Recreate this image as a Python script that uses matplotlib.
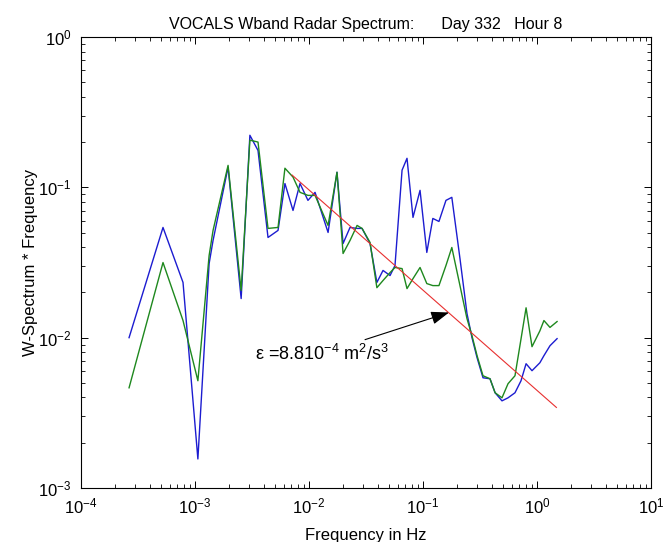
import numpy as np
import matplotlib
matplotlib.use("Agg")
import matplotlib.pyplot as plt

plt.rcParams['font.family'] = ['Liberation Sans', 'DejaVu Sans']
plt.rcParams['mathtext.default'] = 'regular'

# Frequencies (Hz)
freq = [2.64e-4, 5.24e-4, 7.85e-4, 1.06e-3, 1.33e-3, 1.44e-3, 1.95e-3, 2.54e-3, 3.03e-3, 3.57e-3,
        4.37e-3, 5.35e-3, 6.15e-3, 7.24e-3, 8.34e-3, 9.79e-3, 1.13e-2, 1.47e-2, 1.76e-2, 1.99e-2,
        2.29e-2, 2.64e-2, 2.92e-2, 3.43e-2, 3.94e-2, 4.46e-2, 5.14e-2, 5.68e-2, 6.55e-2, 7.24e-2,
        8.17e-2, 9.42e-2, 0.108, 0.122, 0.138, 0.159, 0.179, 0.211, 0.243, 0.269,
        0.298, 0.336, 0.387, 0.429, 0.493, 0.557, 0.641, 0.724, 0.802, 0.904,
        1.06, 1.15, 1.30, 1.50]

# W-spectrum * frequency, blue series
spec_blue = [1.00e-2, 5.41e-2, 2.33e-2, 1.56e-3, 3.11e-2, 4.43e-2, 0.136, 1.82e-2, 0.222, 0.176,
             4.64e-2, 5.17e-2, 0.106, 7.02e-2, 0.106, 8.19e-2, 9.26e-2, 5.01e-2, 0.126, 4.23e-2,
             5.41e-2, 5.33e-2, 5.33e-2, 4.23e-2, 2.33e-2, 2.80e-2, 2.59e-2, 3.02e-2, 0.130, 0.156,
             6.31e-2, 9.55e-2, 3.69e-2, 6.21e-2, 5.93e-2, 8.19e-2, 8.58e-2, 3.36e-2, 1.45e-2, 1.00e-2,
             7.36e-3, 5.41e-3, 5.33e-3, 4.30e-3, 3.80e-3, 3.98e-3, 4.30e-3, 5.17e-3, 6.71e-3, 6.03e-3,
             6.81e-3, 7.59e-3, 8.84e-3, 9.85e-3]

# W-spectrum * frequency, green series
spec_green = [4.64e-3, 3.16e-2, 1.30e-2, 5.17e-3, 3.52e-2, 5.17e-2, 0.140, 2.06e-2, 0.206, 0.200,
              5.33e-2, 5.41e-2, 0.134, 0.117, 9.26e-2, 8.84e-2, 8.84e-2, 5.58e-2, 0.126, 3.63e-2,
              4.43e-2, 5.58e-2, 5.33e-2, 4.30e-2, 2.15e-2, 2.40e-2, 2.71e-2, 2.93e-2, 2.88e-2, 2.12e-2,
              2.47e-2, 2.93e-2, 2.29e-2, 2.22e-2, 2.22e-2, 3.02e-2, 3.98e-2, 2.22e-2, 1.34e-2, 1.03e-2,
              7.59e-3, 5.58e-3, 5.33e-3, 4.30e-3, 3.98e-3, 4.94e-3, 5.58e-3, 9.8e-3, 1.58e-2, 8.71e-3,
              1.11e-2, 1.30e-2, 1.17e-2, 1.28e-2]

# -2/3 power-law fit
fit_range = [7.1e-3, 1.48]
fit_coef = 4.46e-3
fit_slope = -2.0 / 3.0

title = "VOCALS Wband Radar Spectrum:      Day 332   Hour 8"
eps_label = r"ε =8.810$^{-4}$ m$^2$/s$^3$"

fig = plt.figure(figsize=(6.64, 5.42), dpi=100)
fig.patch.set_facecolor('white')
L, R, T, B = 81, 651, 37, 488
W, H = 664, 542
ax = fig.add_axes([L / W, 1 - B / H, (R - L) / W, (B - T) / H])

ax.plot(freq, spec_blue, color='#1c1cd0', lw=1.0)
ax.plot(freq, spec_green, color='#1e881e', lw=1.0)
ff = np.logspace(np.log10(fit_range[0]), np.log10(fit_range[1]), 50)
ax.plot(ff, fit_coef * ff ** fit_slope, color='#e83030', lw=0.8)

ax.set_xscale('log')
ax.set_yscale('log')
ax.set_xlim(1e-4, 1e1)
ax.set_ylim(1e-3, 1e0)

ax.tick_params(which='both', direction='in', top=True, right=True, labelsize=12)
ax.tick_params(axis='x', pad=6)
ax.tick_params(axis='y', pad=7)
ax.tick_params(which='major', length=5, width=0.7)
ax.tick_params(which='minor', length=3, width=0.6)
for s in ax.spines.values():
    s.set_linewidth(0.8)

ax.set_title(title, fontsize=11.5, pad=6)
ax.set_xlabel("Frequency in Hz", fontsize=12)
ax.xaxis.set_label_coords(0.5, -0.088)
ax.set_ylabel("W-Spectrum * Frequency", fontsize=12, va='center')
ax.yaxis.set_label_coords(-0.089, 0.5)

ax.text(3.36e-3, 7.8e-3, eps_label, fontsize=13, ha='left', va='center')
ax.annotate("", xy=(0.169, 0.0147), xytext=(0.031, 9.7e-3),
            arrowprops=dict(arrowstyle='-|>,head_length=1.1,head_width=0.4',
                            color='black', lw=0.8, shrinkA=0, shrinkB=0))

fig.savefig("out.png", dpi=100)
